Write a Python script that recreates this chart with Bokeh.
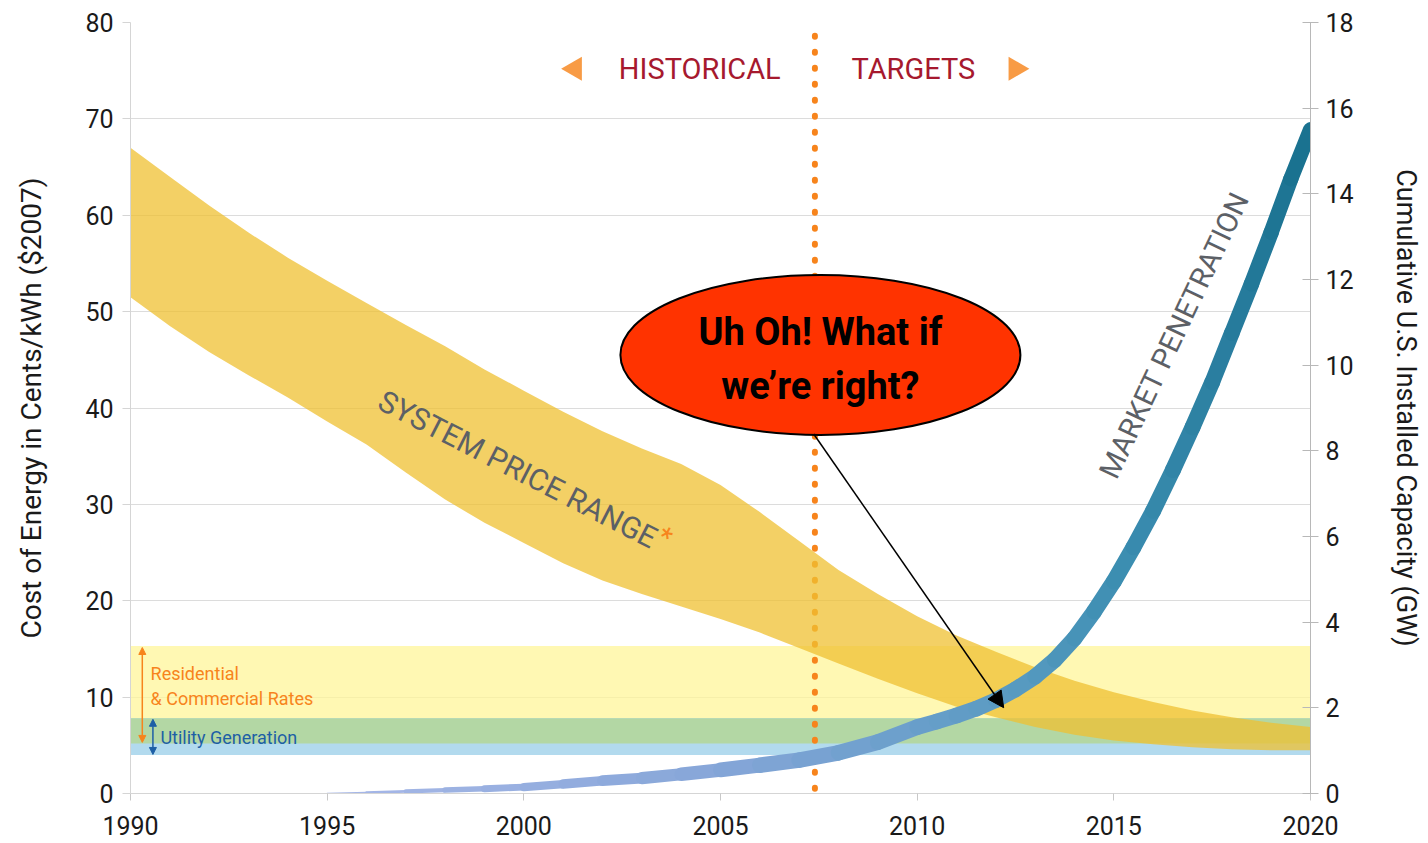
import numpy as np
from bokeh.plotting import figure
from bokeh.models import Range1d, LinearAxis, FixedTicker, Arrow, NormalHead, Label
from bokeh.embed import file_html
from bokeh.resources import INLINE

# ---------------- data ----------------
x_ticks = [1990, 1995, 2000, 2005, 2010, 2015, 2020]
cost_ticks = [0, 10, 20, 30, 40, 50, 60, 70, 80]
gw_ticks = [0, 2, 4, 6, 8, 10, 12, 14, 16, 18]

# System price range (cents/kWh, $2007)
price_years = list(range(1990, 2021))
price_high = [67.0, 64.0, 61.0, 58.2, 55.6, 53.2, 50.9, 48.6, 46.4, 44.0, 41.8,
              39.6, 37.6, 35.8, 34.2, 32.0, 29.2, 26.2, 23.2, 20.7, 18.4,
              16.4, 14.7, 13.1, 11.7, 10.5, 9.5, 8.6, 7.9, 7.35, 6.9]
price_low = [51.5, 48.5, 45.8, 43.4, 41.1, 38.6, 36.2, 33.3, 30.5, 28.1, 26.0,
             23.9, 22.1, 20.7, 19.4, 18.1, 16.7, 15.1, 13.5, 11.9, 10.4,
             9.0, 7.9, 6.9, 6.1, 5.5, 5.1, 4.8, 4.6, 4.5, 4.5]

# Market penetration: cumulative U.S. installed capacity (GW)
cap_years = [1995, 1996, 1997, 1998, 1999, 2000, 2001, 2002, 2003, 2004, 2005, 2006,
             2007, 2008, 2009, 2010, 2010.5, 2011, 2011.5, 2012, 2012.5, 2013, 2013.5,
             2014, 2014.5, 2015, 2015.5, 2016, 2016.5, 2017, 2017.5, 2018, 2018.5,
             2019, 2019.5, 2020]
cap_gw = [0.0, 0.02, 0.05, 0.08, 0.11, 0.15, 0.22, 0.30, 0.36, 0.45, 0.55, 0.66,
          0.78, 0.95, 1.2, 1.55, 1.68, 1.82, 1.98, 2.18, 2.43, 2.73, 3.12,
          3.62, 4.25, 4.95, 5.75, 6.6, 7.55, 8.55, 9.6, 10.75, 11.9,
          13.1, 14.35, 15.5]

# Rate ranges (cents/kWh)
residential_rates = [5.2, 15.3]
utility_rates = [4.0, 7.8]

divider_year = 2007.4

FONT = "Roboto"
ORANGE = "#F7841C"
GRAY_TXT = "#5C6066"
DARK = "#1a1a1a"

p = figure(width=1425, height=840, x_range=Range1d(1990, 2020), y_range=Range1d(0, 80),
           output_backend="svg", toolbar_location=None,
           min_border_left=130, min_border_right=115, min_border_top=22, min_border_bottom=47)
p.extra_y_ranges = {"gw": Range1d(0, 18)}
p.outline_line_color = None
p.background_fill_color = "white"
p.xgrid.visible = False
p.ygrid.grid_line_color = "#DCDCDC"
p.ygrid.grid_line_width = 1.2

# left axis
ax = p.yaxis[0]
ax.ticker = FixedTicker(ticks=cost_ticks)
ax.axis_line_color = "#D5D5D5"
ax.major_tick_line_color = "#D5D5D5"
ax.major_tick_out = 8
ax.major_tick_in = 0
ax.minor_tick_line_color = None
ax.major_label_text_font = FONT
ax.major_label_text_font_size = "25px"
ax.major_label_text_color = DARK
ax.major_label_standoff = 9
ax.axis_label = "Cost of Energy in Cents/kWh ($2007)"
ax.axis_label_text_font = FONT
ax.axis_label_text_font_style = "normal"
ax.axis_label_text_font_size = "28px"
ax.axis_label_text_color = DARK
ax.axis_label_standoff = 34

# right axis
rax = LinearAxis(y_range_name="gw", ticker=FixedTicker(ticks=gw_ticks))
rax.axis_line_color = "#B8B8B8"
rax.major_tick_line_color = "#B8B8B8"
rax.major_tick_out = 8
rax.major_tick_in = 8
rax.minor_tick_line_color = None
rax.major_label_text_font = FONT
rax.major_label_text_font_size = "25px"
rax.major_label_text_color = DARK
rax.major_label_standoff = 7
rax.axis_label = "Cumulative U.S. Installed Capacity (GW)"
rax.axis_label_text_font = FONT
rax.axis_label_text_font_style = "normal"
rax.axis_label_text_font_size = "27px"
rax.axis_label_text_color = DARK
rax.axis_label_standoff = 33
p.add_layout(rax, "right")

# x axis
xa = p.xaxis[0]
xa.ticker = FixedTicker(ticks=x_ticks)
xa.axis_line_color = "#D5D5D5"
xa.major_tick_line_color = "#C8C8C8"
xa.major_tick_out = 7
xa.major_tick_in = 0
xa.minor_tick_line_color = None
xa.major_label_text_font = FONT
xa.major_label_text_font_size = "25px"
xa.major_label_text_color = DARK
xa.major_label_standoff = 15

# rate bands
x0, x1 = x_ticks[0], x_ticks[-1]
p.quad(left=x0, right=x1, bottom=residential_rates[0], top=residential_rates[1],
       fill_color="#FFF59A", fill_alpha=0.75, line_color=None)
p.quad(left=x0, right=x1, bottom=utility_rates[0], top=utility_rates[1],
       fill_color="#B2DAEE", line_color=None)
p.quad(left=x0, right=x1, bottom=max(residential_rates[0], utility_rates[0]),
       top=min(residential_rates[1], utility_rates[1]),
       fill_color="#B3D7A4", line_color=None)

# divider dotted line
p.segment(x0=[divider_year], y0=[0.5], x1=[divider_year], y1=[78.7],
          line_color=ORANGE, line_width=6, line_dash="1 15", line_cap="round")

# system price range band
p.varea(x=price_years, y1=price_low, y2=price_high, fill_color="#EFC032", fill_alpha=0.75)

# market penetration curve (gradient band made of segments)
stops_x = [1995, 2005, 2010, 2013, 2015, 2018, 2020]
stops_c = [(168, 184, 232), (134, 166, 216), (106, 159, 203), (85, 153, 191),
           (62, 143, 179), (40, 125, 158), (24, 112, 142)]
xs, ys, cols, wid = [], [], [], []
for i in range(len(cap_years) - 1):
    xs.append([cap_years[i], cap_years[i + 1]])
    ys.append([cap_gw[i], cap_gw[i + 1]])
    m = (cap_years[i] + cap_years[i + 1]) / 2
    rgb = [int(round(np.interp(m, stops_x, [c[k] for c in stops_c]))) for k in range(3)]
    cols.append("#%02x%02x%02x" % tuple(rgb))
    wid.append(float(np.interp(m, [1995, 2000, 2006, 2017, 2020], [1, 7.5, 15.5, 16, 15])))
p.multi_line(xs=xs, ys=ys, line_color=cols, line_width=wid, line_cap="round",
             line_join="round", y_range_name="gw")

# header
p.scatter(x=[2001.3], y=[75.2], marker="triangle", size=24, angle=np.pi / 2,
          fill_color="#F89B45", line_color=None)
p.scatter(x=[2012.5], y=[75.2], marker="triangle", size=24, angle=-np.pi / 2,
          fill_color="#F89B45", line_color=None)
p.add_layout(Label(x=2006.53, y=75.2, text="HISTORICAL", text_align="right",
                   text_baseline="middle", text_font=FONT, text_font_size="29px",
                   text_color="#A6192E"))
p.add_layout(Label(x=2008.33, y=75.2, text="TARGETS", text_align="left",
                   text_baseline="middle", text_font=FONT, text_font_size="29px",
                   text_color="#A6192E"))

# band labels
p.add_layout(Label(x=1990.51, y=12.45, text="Residential", text_baseline="middle",
                   text_font=FONT, text_font_size="18px", text_color=ORANGE))
p.add_layout(Label(x=1990.51, y=9.85, text="& Commercial Rates", text_baseline="middle",
                   text_font=FONT, text_font_size="18px", text_color=ORANGE))
p.add_layout(Label(x=1990.76, y=5.8, text="Utility Generation", text_baseline="middle",
                   text_font=FONT, text_font_size="18px", text_color="#1D5FA6"))
p.add_layout(Arrow(start=NormalHead(size=7, fill_color=ORANGE, line_color=ORANGE),
                   end=NormalHead(size=7, fill_color=ORANGE, line_color=ORANGE),
                   x_start=1990.3, y_start=residential_rates[1] - 0.15,
                   x_end=1990.3, y_end=residential_rates[0] + 0.1,
                   line_color=ORANGE, line_width=1.5))
p.add_layout(Arrow(start=NormalHead(size=7, fill_color="#1D5FA6", line_color="#1D5FA6"),
                   end=NormalHead(size=7, fill_color="#1D5FA6", line_color="#1D5FA6"),
                   x_start=1990.57, y_start=utility_rates[1] - 0.1,
                   x_end=1990.57, y_end=utility_rates[0] + 0.05,
                   line_color="#1D5FA6", line_width=1.5))

# rotated annotations
p.add_layout(Label(x=1996.36, y=40.97, text="SYSTEM PRICE RANGE", angle=-0.475,
                   text_align="left", text_baseline="middle", text_font=FONT,
                   text_font_size="30px", text_color=GRAY_TXT))
p.add_layout(Label(x=2003.45, y=26.9, text="*", angle=-0.475,
                   text_align="left", text_baseline="middle", text_font=FONT,
                   text_font_size="28px", text_color=ORANGE))
p.add_layout(Label(x=2014.84, y=32.9, text="MARKET PENETRATION", angle=1.13,
                   text_align="left", text_baseline="middle", text_font=FONT,
                   text_font_size="29px", text_color=GRAY_TXT))

# callout
p.ellipse(x=[2007.54], y=[45.5], width=[10.17], height=[16.6],
          fill_color="#FF3300", line_color="black", line_width=2)
p.add_layout(Label(x=2007.54, y=47.85, text="Uh Oh! What if", text_align="center",
                   text_baseline="middle", text_font=FONT, text_font_size="38px",
                   text_font_style="bold", text_color="black"))
p.add_layout(Label(x=2007.54, y=42.3, text="we\u2019re right?", text_align="center",
                   text_baseline="middle", text_font=FONT, text_font_size="38px",
                   text_font_style="bold", text_color="black"))
p.add_layout(Arrow(end=NormalHead(size=16, fill_color="black", line_color="black"),
                   x_start=2007.37, y_start=37.3, x_end=2012.2, y_end=8.9,
                   line_color="black", line_width=1.5))

open("out.html", "w").write(file_html(p, INLINE))
